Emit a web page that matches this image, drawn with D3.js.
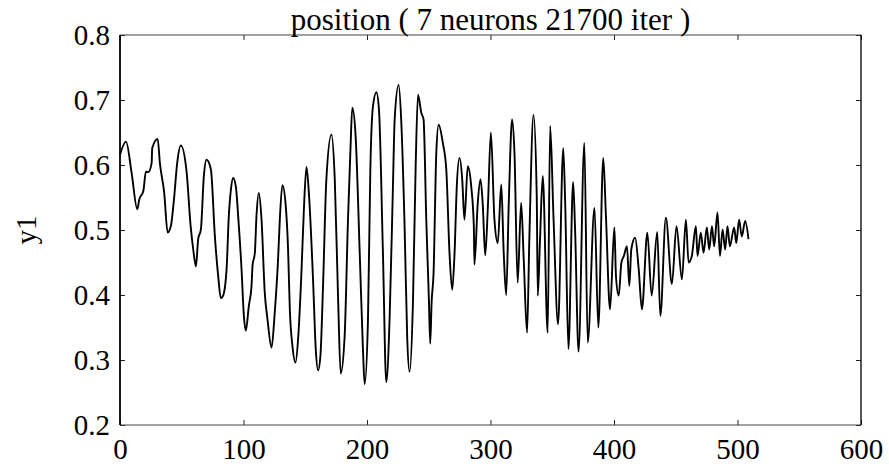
<!DOCTYPE html>
<html>
<head>
<meta charset="utf-8">
<script src="https://cdn.jsdelivr.net/npm/d3@7"></script>
<style>
  body { margin: 0; background: #fff; }
  svg { display: block; }
</style>
</head>
<body>
<div id="chart"></div>
<script>
// ---- data (iteration step -> y1) ----
var stepX = [
  0, 4.9, 9.4, 14, 15.6, 18.9, 21, 22.9, 25.6, 26.1, 30.5, 32.3, 35.8, 38.6, 41.2, 43.7, 46.3, 49.3,
  53.9, 57.2, 59.3, 61.5, 63.3, 65.5, 67.9, 70.1, 73.6, 76.8, 79.5, 81.7, 83.5, 86.3, 88.1, 89.8,
  91.6, 93.8, 95.7, 98.4, 100.3, 101.9, 104.3, 106.5, 107.3, 109.2, 110.5, 112.4, 114.6, 117.2,
  119.4, 122.7, 125.3, 128, 129.4, 131.5, 134.2, 136.1, 137.5, 139.6, 142.1, 144.2, 146.9, 148.8,
  151, 153.1, 156.3, 158.5, 160.4, 162.3, 164.4, 167.1, 171.2, 173.9, 176.6, 178.7, 181.9, 184.6,
  186.6, 188.1, 190.8, 194.1, 196.8, 198.1, 200.8, 202.7, 204.8, 207.6, 209.7, 212.9, 215.6, 218.3,
  221, 222.4, 225.6, 227.8, 230.5, 232.6, 234.5, 237.2, 239.4, 241.3, 244, 245.8, 248, 250.1, 251.2,
  252.3, 253.9, 256.1, 258, 261.4, 264.2, 266.8, 269, 270.9, 272.7, 274.9, 277.1, 278.9, 281.6,
  284.4, 286.5, 287, 289.7, 291.9, 293.8, 295.7, 297.9, 300.3, 303.2, 305.9, 308.7, 310.7, 312.7,
  314.8, 317.5, 319.4, 322, 324.8, 326.9, 329.6, 331.5, 334.8, 337.4, 338.3, 340, 342.3, 346.3,
  348.3, 351, 354.7, 358.9, 360.5, 363.1, 366.9, 368.5, 371.3, 376, 378.7, 384.2, 387.3, 391.3,
  393.5, 396.8, 400.3, 401.6, 403.8, 406, 408, 410.5, 412.4, 414, 417.1, 420, 422.6, 427, 430.5,
  435, 437.5, 442, 446.9, 450.6, 455, 458.2, 460.4, 463, 466.3, 467.6, 470.3, 472.5, 475.2, 477.1,
  479.3, 481.1, 483.8, 485.8, 487.9, 490, 491.9, 493.8, 497.3, 499, 501.3, 503.5, 506.2, 508.9
];
var y1Vals = [
  0.616, 0.636, 0.588, 0.532, 0.547, 0.56, 0.59, 0.589, 0.603, 0.626, 0.64, 0.603, 0.557, 0.496, 0.506, 0.547, 0.603, 0.630,
  0.590, 0.506, 0.470, 0.444, 0.486, 0.501, 0.583, 0.608, 0.593, 0.491, 0.429, 0.395, 0.399, 0.440, 0.521, 0.562,
  0.580, 0.567, 0.521, 0.440, 0.368, 0.345, 0.383, 0.414, 0.445, 0.465, 0.521, 0.557, 0.516, 0.404,
  0.363, 0.319, 0.373, 0.455, 0.516, 0.569, 0.537, 0.470, 0.378, 0.322, 0.296, 0.332, 0.434, 0.527,
  0.597, 0.552, 0.424, 0.317, 0.284, 0.307, 0.414, 0.578, 0.647, 0.578, 0.394, 0.279, 0.337, 0.516,
  0.624, 0.688, 0.644, 0.465, 0.312, 0.263, 0.363, 0.593, 0.690, 0.712, 0.685, 0.465, 0.266, 0.363,
  0.567, 0.670, 0.723, 0.665, 0.501, 0.332, 0.282, 0.388, 0.598, 0.708, 0.680, 0.670, 0.516, 0.394, 0.325,
  0.388, 0.434, 0.618, 0.662, 0.634, 0.593, 0.465, 0.408, 0.465, 0.567, 0.611, 0.578, 0.516, 0.598,
  0.567, 0.506, 0.447, 0.542, 0.578, 0.537, 0.461, 0.537, 0.650, 0.516, 0.480, 0.570, 0.465, 0.400,
  0.542, 0.670, 0.619, 0.419, 0.542, 0.455, 0.342, 0.491, 0.677, 0.557, 0.399, 0.48, 0.583, 0.342,
  0.660, 0.52, 0.355, 0.626, 0.54, 0.317, 0.574, 0.5, 0.313, 0.634, 0.327, 0.534, 0.350, 0.611,
  0.52, 0.378, 0.504, 0.429, 0.399, 0.45, 0.46, 0.475, 0.414, 0.47, 0.488, 0.44, 0.378, 0.496, 0.399,
  0.497, 0.368, 0.519, 0.417, 0.506, 0.424, 0.516, 0.450, 0.46, 0.506, 0.460, 0.496, 0.465, 0.504, 0.470,
  0.506, 0.475, 0.527, 0.460, 0.501, 0.470, 0.506, 0.475, 0.504, 0.48, 0.516, 0.49, 0.514, 0.486
];
var xTickVals = [0, 100, 200, 300, 400, 500, 600];
var yTickVals = [0.2, 0.3, 0.4, 0.5, 0.6, 0.7, 0.8];
var titleText = "position ( 7 neurons 21700 iter )";
var yLabel = "y1";

// ---- canvas ----
var width = 889;
var height = 475;
var plotLeft = 120, plotRight = 861, plotTop = 35, plotBottom = 425;
var fontFam = "'Liberation Serif', 'Times New Roman', serif";

var svg = d3.select("#chart")
  .append("svg")
  .attr("width", width)
  .attr("height", height);

var xScale = d3.scaleLinear().domain([0, 600]).range([plotLeft, plotRight]);
var yScale = d3.scaleLinear().domain([0.2, 0.8]).range([plotBottom, plotTop]);

var points = stepX.map(function(d, i) { return [d, y1Vals[i]]; });

// inward ticks on all 4 sides
var bottomAxis = svg.append("g")
  .attr("transform", "translate(0," + plotBottom + ")")
  .call(d3.axisBottom(xScale).tickValues(xTickVals).tickSize(-5).tickPadding(12)
    .tickFormat(d3.format("d")));
var topAxis = svg.append("g")
  .attr("transform", "translate(0," + plotTop + ")")
  .call(d3.axisTop(xScale).tickValues(xTickVals).tickSize(-5).tickFormat(""));
var leftAxis = svg.append("g")
  .attr("transform", "translate(" + plotLeft + ",0)")
  .call(d3.axisLeft(yScale).tickValues(yTickVals).tickSize(-5).tickPadding(10)
    .tickFormat(d3.format(".1f")));
var rightAxis = svg.append("g")
  .attr("transform", "translate(" + plotRight + ",0)")
  .call(d3.axisRight(yScale).tickValues(yTickVals).tickSize(-5).tickFormat(""));

[bottomAxis, topAxis, leftAxis, rightAxis].forEach(function(ax) {
  ax.select(".domain").remove();
  ax.selectAll("line").attr("stroke", "#222").attr("stroke-width", 1);
  ax.attr("font-family", fontFam).attr("font-size", 29);
  ax.selectAll("text").attr("fill", "#000");
});

// x labels sit a bit lower
bottomAxis.selectAll("text").attr("dy", "0.75em");
leftAxis.selectAll("text").attr("dy", "0.32em");

// frame
svg.append("line").attr("x1", plotLeft).attr("x2", plotRight).attr("y1", plotTop).attr("y2", plotTop)
  .attr("stroke", "#444").attr("stroke-width", 1.2);
svg.append("line").attr("x1", plotLeft).attr("x2", plotRight).attr("y1", plotBottom).attr("y2", plotBottom)
  .attr("stroke", "#444").attr("stroke-width", 1.2);
svg.append("line").attr("x1", plotLeft).attr("x2", plotLeft).attr("y1", plotTop).attr("y2", plotBottom)
  .attr("stroke", "#000").attr("stroke-width", 1.8);
svg.append("line").attr("x1", plotRight).attr("x2", plotRight).attr("y1", plotTop).attr("y2", plotBottom)
  .attr("stroke", "#111").attr("stroke-width", 1.4);

// the series
var line = d3.line()
  .curve(d3.curveMonotoneX)
  .x(function(d) { return xScale(d[0]); })
  .y(function(d) { return yScale(d[1]); });

svg.append("path")
  .datum(points)
  .attr("fill", "none")
  .attr("stroke", "#000")
  .attr("stroke-width", 1.9)
  .attr("stroke-linejoin", "round")
  .attr("d", line);

// title
svg.append("text")
  .attr("x", (plotLeft + plotRight) / 2)
  .attr("y", 30)
  .attr("text-anchor", "middle")
  .attr("font-family", fontFam)
  .attr("font-size", 31)
  .text(titleText);

// y label
svg.append("text")
  .attr("transform", "translate(36," + ((plotTop + plotBottom) / 2) + ")rotate(-90)")
  .attr("text-anchor", "middle")
  .attr("font-family", fontFam)
  .attr("font-size", 29)
  .text(yLabel);
</script>
</body>
</html>
